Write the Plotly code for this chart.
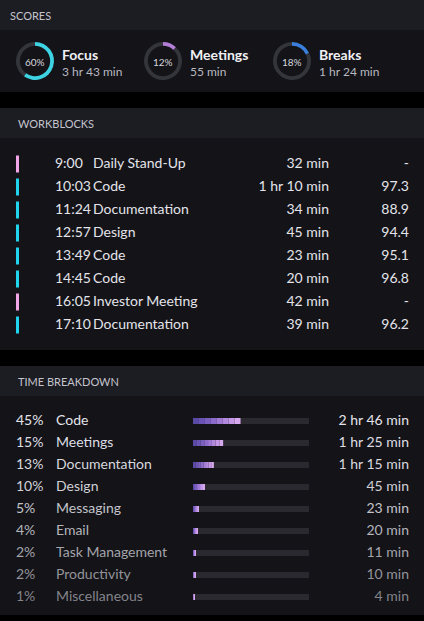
import plotly.graph_objects as go

# Scores
score_names = ["Focus", "Meetings", "Breaks"]
score_pcts = [60, 12, 18]
score_times = ["3 hr 43 min", "55 min", "1 hr 24 min"]
score_colors = ["#3ed3e3", "#b27ed6", "#3a7fdc"]

# Workblocks
wb_start = ["9:00", "10:03", "11:24", "12:57", "13:49", "14:45", "16:05", "17:10"]
wb_name = ["Daily Stand-Up", "Code", "Documentation", "Design", "Code", "Code",
           "Investor Meeting", "Documentation"]
wb_dur = ["32 min", "1 hr 10 min", "34 min", "45 min", "23 min", "20 min", "42 min", "39 min"]
wb_score = ["-", "97.3", "88.9", "94.4", "95.1", "96.8", "-", "96.2"]
wb_meeting = [True, False, False, False, False, False, True, False]

# Time breakdown
tb_pct = ["45%", "15%", "13%", "10%", "5%", "4%", "2%", "2%", "1%"]
tb_name = ["Code", "Meetings", "Documentation", "Design", "Messaging", "Email",
           "Task Management", "Productivity", "Miscellaneous"]
tb_time = ["2 hr 46 min", "1 hr 25 min", "1 hr 15 min", "45 min", "23 min", "20 min",
           "11 min", "10 min", "4 min"]
tb_fill = [0.41, 0.26, 0.18, 0.10, 0.05, 0.04, 0.025, 0.02, 0.015]

W, H = 424, 621
FONT = "Lato"
fig = go.Figure()

# panels
shapes = []
for top, head_h, bottom in [(0, 30, 92), (108, 30, 350), (366, 30, 615)]:
    shapes.append(dict(type="rect", x0=0, x1=W, y0=top, y1=bottom, fillcolor="#131318",
                       line=dict(width=0), layer="below"))
    shapes.append(dict(type="rect", x0=0, x1=W, y0=top, y1=top + head_h, fillcolor="#1c1c23",
                       line=dict(width=0), layer="below"))
headers = [("SCORES", 8, 15), ("WORKBLOCKS", 16, 123), ("TIME BREAKDOWN", 16, 381)]
annotations = [dict(text=t, x=x, y=y, xref="x", yref="y", xanchor="left", yanchor="middle",
                    showarrow=False, font=dict(family=FONT, size=11, color="#c4c4cc"))
               for t, x, y in headers]

# score donuts
cx = [35, 163, 292]
for i in range(3):
    r = 19
    fig.add_trace(go.Pie(values=[score_pcts[i], 100 - score_pcts[i]], hole=0.8, sort=False,
                         direction="clockwise", rotation=0, textinfo="none", showlegend=False,
                         marker=dict(colors=[score_colors[i], "#34343b"], line=dict(width=0)),
                         domain=dict(x=[(cx[i] - r) / W, (cx[i] + r) / W],
                                     y=[1 - (61 + r) / H, 1 - (61 - r) / H])))
    annotations.append(dict(text=f"{score_pcts[i]}%", x=cx[i], y=62, xref="x", yref="y",
                            showarrow=False, font=dict(family=FONT, size=10, color="#d8d8de")))
    annotations.append(dict(text=f"<b>{score_names[i]}</b>", x=cx[i] + 25, y=54, xref="x", yref="y",
                            xanchor="left", showarrow=False,
                            font=dict(family=FONT, size=14, color="#f0f0f4")))
    annotations.append(dict(text=score_times[i], x=cx[i] + 25, y=71, xref="x", yref="y",
                            xanchor="left", showarrow=False,
                            font=dict(family=FONT, size=12, color="#b8b8c0")))

# workblocks
wy = [164 + 23 * i for i in range(len(wb_start))]
fig.add_trace(go.Bar(x=[3] * len(wy), base=[16] * len(wy), y=wy, orientation="h", width=17,
                     marker=dict(color=["#f2a6e8" if m else "#22d3ee" for m in wb_meeting],
                                 line=dict(width=0)), showlegend=False, hoverinfo="skip"))
txt = dict(family=FONT, size=14, color="#e4e4ea")
for xs, vals, pos in [(55, wb_start, "middle right"), (93, wb_name, "middle right"),
                      (329, wb_dur, "middle left"), (409, wb_score, "middle left")]:
    fig.add_trace(go.Scatter(x=[xs] * len(wy), y=wy, text=vals, mode="text", textposition=pos,
                             textfont=txt, showlegend=False, hoverinfo="skip"))

# time breakdown
ty = [421 + 22 * i for i in range(len(tb_name))]
greys = ["#e4e4ea", "#dedee4", "#d8d8de", "#d0d0d6", "#c4c4ca", "#b4b4ba", "#a4a4aa", "#94949a", "#84848a"]
X0, TW = 193, 116
fig.add_trace(go.Bar(x=[TW] * len(ty), base=[X0] * len(ty), y=ty, orientation="h", width=6,
                     marker=dict(color="#29292f", line=dict(width=0)), showlegend=False,
                     hoverinfo="skip"))
# gradient fill: split each bar into segments
nseg = 8
grad = ["#5b49a6", "#6a54b3", "#7b5fbf", "#8d6bca", "#a07ad5", "#b389df", "#c598e7", "#d8a8ef"]
for s in range(nseg):
    fig.add_trace(go.Bar(x=[f * TW / nseg for f in tb_fill],
                         base=[X0 + f * TW * s / nseg for f in tb_fill], y=ty, orientation="h",
                         width=6, marker=dict(color=grad[s], line=dict(width=0)),
                         showlegend=False, hoverinfo="skip"))
for xs, vals, pos in [(16, tb_pct, "middle right"), (56, tb_name, "middle right"),
                      (409, tb_time, "middle left")]:
    fig.add_trace(go.Scatter(x=[xs] * len(ty), y=ty, text=vals, mode="text", textposition=pos,
                             textfont=dict(family=FONT, size=14, color=greys),
                             showlegend=False, hoverinfo="skip"))

fig.update_layout(width=W, height=H, margin=dict(l=0, r=0, t=0, b=0),
                  paper_bgcolor="#000000", plot_bgcolor="#000000", barmode="overlay",
                  shapes=shapes, annotations=annotations,
                  xaxis=dict(range=[0, W], visible=False, fixedrange=True),
                  yaxis=dict(range=[H, 0], visible=False, fixedrange=True))
fig.write_html("out.html", config={"displayModeBar": False},
               post_script="document.body.style.margin='0';document.body.style.background='#000';")
